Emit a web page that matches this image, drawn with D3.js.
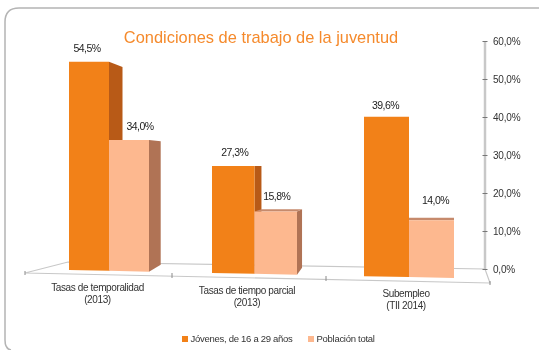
<!DOCTYPE html>
<html>
<head>
<meta charset="utf-8">
<script src="https://cdnjs.cloudflare.com/ajax/libs/d3/7.8.5/d3.min.js"></script>
<style>
  html, body { margin: 0; padding: 0; background: #fff; }
  svg { display: block; font-family: "Liberation Sans", Arial, sans-serif; filter: blur(0.3px); }
</style>
</head>
<body>
<div id="chart"></div>
<script>
var categories = [["Tasas de temporalidad", "(2013)"], ["Tasas de tiempo parcial", "(2013)"], ["Subempleo", "(TII 2014)"]];
var seriesNames = ["Jóvenes, de 16 a 29 años", "Población total"];
var jovenes = [54.5, 27.3, 39.6];
var poblacion = [34.0, 15.8, 14.0];
var yTicks = [0, 10, 20, 30, 40, 50, 60];

var w = 539, h = 350;
var colors = [
  { front: "#f28118", side: "#b85a17", top: "#c9661a" },
  { front: "#fdb88f", side: "#b07355", top: "#c68a6c" }
];

var svg = d3.select("#chart").append("svg").attr("width", w).attr("height", h);

// card outline, runs off the page on the right and the bottom
svg.append("path")
  .attr("d", "M11,350 Q5,349 5,340 V22 Q5,8 19,8 H539")
  .attr("fill", "none")
  .attr("stroke", "#b4b4b4")
  .attr("stroke-width", 1.5);

// scales
var yAxisScale = d3.scaleLinear().domain([0, 60]).range([269, 41]);
var heightScale = d3.scaleLinear().domain([0, 60]).range([0, 229.2]);
var groupX = d3.scaleLinear().domain([0, 1, 2]).range([69, 212, 364]);
var barW = d3.scaleLinear().domain([0, 2]).range([40, 45]);

// fake 3d: everything leans a little towards the right
function base(x) { return 270 + (x - 69) * 0.0208; }
function persp(x) { return 1 + (x - 69) * 0.00018; }
function depth(x) { return Math.max(0, (409 - x) * 0.045); }

// floor
var floor = svg.append("g").attr("fill", "none").attr("stroke", "#c8c8c8").attr("stroke-width", 1.2);
floor.append("path").attr("d", "M25,273 L68,262 L485,269 L490,283 Z");
floor.append("path").attr("d", "M25,271 V275 M172,273 V278 M326,276 V281 M490,281 V285").attr("stroke", "#8a8a8a").attr("stroke-width", 1);

// axis on the right
var axis = svg.append("g")
  .attr("transform", "translate(485,0)")
  .call(d3.axisRight(yAxisScale).tickValues(yTicks).tickSize(2.5).tickFormat(function(d) {
    return d3.format(".1f")(d).replace(".", ",") + "%";
  }));
axis.select(".domain").attr("stroke", "#c8c8c8").attr("stroke-width", 2.5).attr("d", "M0,41 V269");
axis.selectAll(".tick line").attr("stroke", "#777").attr("x1", -2.5);
axis.selectAll(".tick text")
  .attr("x", 8)
  .attr("dy", "0.34em")
  .attr("fill", "#333")
  .style("font-size", "10px")
  .style("letter-spacing", "-0.2px");

// bars, back to front
var bars = [];
categories.forEach(function(c, i) {
  [jovenes[i], poblacion[i]].forEach(function(v, s) {
    var bw = barW(i);
    var x0 = groupX(i) + s * bw;
    bars.push({ group: i, serie: s, value: v, x0: x0, x1: x0 + bw });
  });
});

var barG = svg.append("g").selectAll("g").data(bars).enter().append("g");

function pts(a) { return a.map(function(p) { return p.join(","); }).join(" "); }
function topY(d) { return base(d.x0) - heightScale(d.value) * persp(d.x0); }
function topDy(d) { return (167 - topY(d)) * 0.05; }

// side
barG.append("polygon")
  .attr("fill", function(d) { return colors[d.serie].side; })
  .attr("points", function(d) {
    var dp = depth(d.x1), t = topY(d);
    return pts([[d.x1, t], [d.x1 + dp, t + topDy(d)], [d.x1 + dp, base(d.x1) - 7], [d.x1, base(d.x1)]]);
  });

// top face, only shows on the low bars
barG.append("polygon")
  .attr("fill", function(d) { return colors[d.serie].top; })
  .attr("points", function(d) {
    var dp = depth(d.x1), t = topY(d), dy = Math.min(0, topDy(d));
    return pts([[d.x0, t], [d.x1, t], [d.x1 + dp, t + dy], [d.x0 + depth(d.x0), t + dy]]);
  });

// front
barG.append("polygon")
  .attr("fill", function(d) { return colors[d.serie].front; })
  .attr("points", function(d) {
    var t = topY(d);
    return pts([[d.x0, t], [d.x1, t], [d.x1, base(d.x1)], [d.x0, base(d.x0)]]);
  });

// value labels
var labelDx = [-2, 11, 1.5, 1, -1, 4];
var labelDy = [-10, -10, -10, -11, -8, -16];
svg.append("g").selectAll("text").data(bars).enter().append("text")
  .attr("x", function(d, i) { return (d.x0 + d.x1) / 2 + labelDx[i]; })
  .attr("y", function(d, i) { return topY(d) + labelDy[i]; })
  .attr("text-anchor", "middle")
  .attr("fill", "#222")
  .style("font-size", "10.5px")
  .style("letter-spacing", "-0.55px")
  .text(function(d) { return d3.format(".1f")(d.value).replace(".", ",") + "%"; });

// title
svg.append("text")
  .attr("x", 261)
  .attr("y", 43)
  .attr("text-anchor", "middle")
  .attr("fill", "#f58a2c")
  .style("font-size", "16.4px")
  .text("Condiciones de trabajo de la juventud");

// category labels
var catX = [97.5, 247, 406], catY = [291, 294, 297];
categories.forEach(function(c, i) {
  c.forEach(function(line, j) {
    svg.append("text")
      .attr("x", catX[i])
      .attr("y", catY[i] + j * 12)
      .attr("text-anchor", "middle")
      .attr("fill", "#333")
      .style("font-size", "10px")
      .style("letter-spacing", "-0.38px")
      .text(line);
  });
});

// legend
var legendX = [182, 308];
seriesNames.forEach(function(name, i) {
  svg.append("rect")
    .attr("x", legendX[i]).attr("y", 336)
    .attr("width", 6).attr("height", 6)
    .attr("fill", colors[i].front);
  svg.append("text")
    .attr("x", legendX[i] + 8.5).attr("y", 342)
    .attr("fill", "#333")
    .style("font-size", "9.5px")
    .style("letter-spacing", "-0.28px")
    .text(name);
});
</script>
</body>
</html>
